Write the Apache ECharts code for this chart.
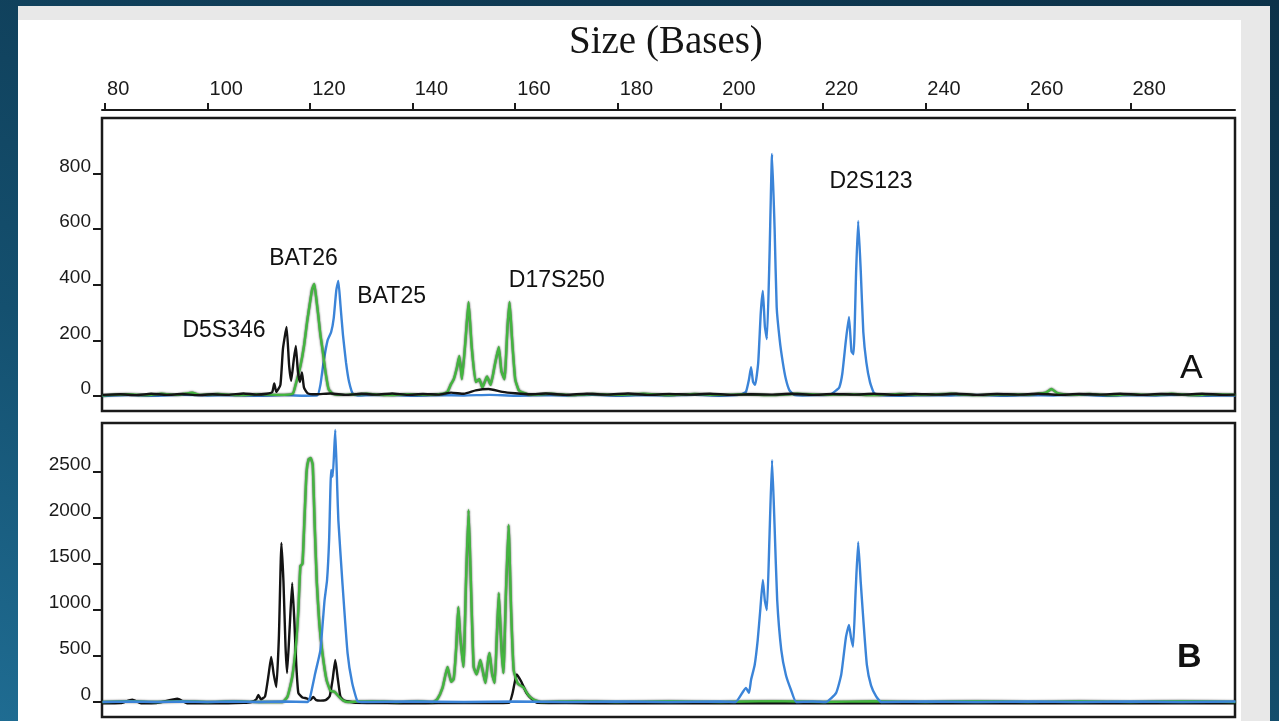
<!DOCTYPE html>
<html>
<head>
<meta charset="utf-8">
<script src="https://cdn.jsdelivr.net/npm/echarts@6/dist/echarts.min.js"></script>
<style>
html,body{margin:0;padding:0;width:1279px;height:721px;overflow:hidden;
background:linear-gradient(20deg,#1f6c92 0%,#14506f 35%,#0f3c56 70%,#0c3249 100%);}
#frame{position:absolute;left:18px;top:6px;width:1252px;height:715px;background:#e8e8e8;}
#paper{position:absolute;left:18px;top:20px;width:1223px;height:701px;background:#ffffff;}
#chart{position:absolute;left:0;top:0;width:1279px;height:721px;}
</style>
</head>
<body>
<div id="frame"></div>
<div id="paper"></div>
<div id="chart"></div>
<script>
// ---- axis ticks ----
const xTicks = [80,100,120,140,160,180,200,220,240,260,280];
const aTicks = [0,200,400,600,800];
const bTicks = [0,500,1000,1500,2000,2500];

// ---- panel A traces [size (bases), height] ----
const aBlack = [[79.5,4],[83,6],[86,3],[89,8],[92,4],[95,7],[98,3],[101,6],[104,4],[107,9],[109.5,5],[111.5,8],[112.6,14],[113.0,45],[113.4,15],[114.2,40],[114.7,170],[115.4,248],[115.9,110],[116.3,55],[116.8,130],[117.2,180],[117.6,90],[118.0,50],[118.4,85],[118.8,30],[119.5,10],[121,6],[124,9],[127,4],[130,8],[133,5],[136,9],[139,4],[142,7],[145,5],[147.5,12],[150,8],[152.3,20],[154.8,25],[157.5,15],[160,10],[163,6],[166,9],[170,4],[174,8],[178,5],[182,9],[186,4],[190,7],[194,5],[198,8],[202,4],[206,6],[210,5],[214,8],[218,4],[222,7],[226,5],[230,8],[234,4],[238,7],[242,5],[246,8],[250,4],[254,7],[258,5],[262,8],[266,4],[270,7],[274,5],[278,8],[282,4],[286,7],[290,5],[294,8],[298,4],[300.5,5]];
const aGreen = [[79.5,2],[84,6],[88,3],[91,8],[94,4],[97,12],[98.5,4],[102,7],[106,3],[110,6],[114,4],[116.6,8],[117.1,36],[118.1,108],[118.8,180],[119.4,266],[120.0,340],[120.4,385],[120.8,403],[121.2,350],[121.6,288],[122.0,220],[122.4,169],[123.0,86],[123.6,25],[124.4,8],[127,4],[131,8],[135,3],[139,6],[143,4],[146,8],[146.8,15],[147.4,40],[148.0,60],[148.6,100],[149.1,144],[149.6,60],[150.3,200],[150.9,338],[151.5,180],[152.3,50],[153.0,60],[153.6,30],[154.5,70],[155.2,40],[156.0,110],[156.8,176],[157.3,90],[157.9,60],[158.5,250],[158.9,338],[159.4,200],[160.0,60],[160.7,20],[161.5,12],[163,5],[167,8],[171,3],[175,7],[180,4],[185,8],[190,3],[195,7],[200,4],[205,6],[210,3],[215,8],[220,4],[225,6],[230,3],[235,7],[240,4],[245,8],[250,3],[255,6],[260,5],[263.5,12],[264.6,25],[265.8,10],[268,4],[272,7],[276,3],[280,6],[284,4],[288,8],[292,3],[296,6],[300.5,4]];
const aBlue = [[79.5,0],[85,3],[90,1],[95,4],[100,2],[105,3],[110,1],[115,3],[119,1],[121.4,2],[122.0,40],[122.6,120],[123.4,200],[124.1,230],[124.6,280],[125.1,380],[125.5,414],[125.9,330],[126.4,220],[127.0,120],[127.6,50],[128.4,6],[130,2],[135,4],[140,1],[145,3],[150,2],[155,4],[160,1],[165,3],[170,2],[175,4],[180,1],[185,3],[190,2],[195,4],[200,1],[204.0,5],[205.0,15],[205.6,60],[206.0,104],[206.4,50],[206.8,40],[207.4,120],[207.9,300],[208.3,378],[208.7,250],[209.1,205],[209.6,500],[210.1,871],[210.6,600],[211.0,320],[211.6,200],[212.2,120],[212.8,60],[213.5,20],[214.4,4],[216,2],[219,3],[221.5,5],[222.6,20],[223.2,30],[223.8,80],[224.5,200],[225.1,284],[225.6,160],[226.0,150],[226.5,450],[226.9,630],[227.4,450],[227.9,230],[228.5,120],[229.2,50],[230.0,10],[231,3],[235,1],[240,3],[245,2],[250,4],[255,1],[260,3],[265,2],[270,4],[275,1],[280,3],[285,2],[290,4],[295,1],[300.5,2]];

// ---- panel B traces ----
const bBlack = [[79.5,-15],[83,-12],[85.3,25],[87,-15],[90,-12],[94.1,35],[96,-14],[100,-12],[104,-15],[107,-10],[108.5,0],[109.5,30],[109.9,76],[110.4,30],[111.2,60],[111.9,300],[112.4,489],[112.9,300],[113.4,163],[113.9,700],[114.4,1728],[114.8,1300],[115.2,600],[115.5,315],[116.0,800],[116.5,1293],[116.9,900],[117.3,400],[117.7,98],[118.5,50],[119.3,40],[120.0,20],[120.6,55],[121.2,20],[122.0,15],[123.0,20],[123.8,60],[124.4,250],[124.9,456],[125.4,250],[125.9,60],[126.5,20],[127.5,5],[129,-10],[135,-12],[140,-15],[145,-12],[150,-10],[155,-12],[158.8,-10],[159.5,100],[160.3,300],[161.2,220],[162.2,100],[163.3,30],[164.5,-10],[170,-12],[180,-15],[190,-12],[200,-15],[210,-12],[220,-15],[230,-12],[240,-15],[250,-12],[260,-15],[270,-12],[280,-15],[290,-12],[300.5,-15]];
const bGreen = [[79.5,0],[85,8],[90,0],[95,10],[100,0],[105,8],[110,0],[114.6,0],[115.6,60],[116.5,272],[117.2,600],[117.7,1000],[118.1,1480],[118.5,1500],[118.9,2000],[119.3,2500],[119.7,2640],[120.1,2652],[120.5,2580],[120.9,1900],[121.3,1300],[121.8,850],[122.4,530],[123.2,240],[124.0,120],[124.8,110],[125.6,60],[126.5,15],[127.5,0],[132,10],[137,0],[141,8],[144.0,0],[144.8,30],[145.8,150],[146.8,380],[147.5,220],[148.0,250],[148.5,600],[148.9,1033],[149.3,700],[149.9,380],[150.4,1300],[150.9,2087],[151.3,1400],[151.9,380],[152.5,300],[153.2,456],[153.8,300],[154.2,206],[154.7,450],[155.0,532],[155.5,300],[156.0,206],[156.4,700],[156.8,1185],[157.3,600],[157.7,315],[158.2,1200],[158.7,1924],[159.2,1000],[159.7,348],[160.5,200],[161.6,160],[162.5,80],[163.5,30],[165.0,0],[172,10],[180,0],[190,8],[200,0],[210,10],[220,0],[230,8],[240,0],[250,10],[260,0],[270,8],[280,0],[290,10],[300.5,0]];
const bBlue = [[79.5,0],[85,5],[90,0],[95,5],[100,0],[105,5],[110,0],[115,5],[119.5,0],[120.0,54],[121.0,315],[122.0,565],[122.8,1100],[123.3,1326],[123.7,1761],[124.1,2522],[124.4,2450],[124.9,2957],[125.3,2300],[125.5,1978],[126.3,1293],[127.3,532],[128.2,206],[129.2,10],[130,0],[140,5],[150,0],[160,5],[170,0],[180,5],[190,0],[200,5],[203.0,0],[205.0,152],[205.6,100],[206.0,240],[206.7,400],[207.3,674],[207.8,1000],[208.3,1326],[208.7,1100],[209.1,1000],[209.6,1800],[210.1,2630],[210.6,1900],[211.1,1109],[211.9,565],[212.8,293],[213.8,130],[214.8,0],[218,5],[220.6,0],[222.6,100],[223.6,300],[224.5,700],[225.1,837],[225.5,700],[225.9,600],[226.4,1200],[226.9,1739],[227.4,1300],[227.9,900],[228.6,400],[229.4,180],[230.4,60],[231.4,0],[240,5],[250,0],[260,5],[270,0],[280,5],[290,0],[300.5,5]];

// ---- marker labels [size, height, text] ----
const aLabels = [[103.2,234,'D5S346'],[118.7,493,'BAT26'],[135.9,356,'BAT25'],[168.1,414,'D17S250'],[229.4,770,'D2S123']];
const aPanelTag = [[291.9,97,'A']];
const bPanelTag = [[291.5,478,'B']];

const GREEN = '#43b53f', BLUE = '#3b84d8', BLACK = '#141414';
const XMIN = 79.4, XMAX = 300.4;

function trace(data, color, xi, yi, z, shadow) {
  return {
    type: 'line', xAxisIndex: xi, yAxisIndex: yi, data: data, showSymbol: false,
    smooth: 0.15, z: z, silent: true,
    lineStyle: Object.assign({color: color, width: 2.4},
      shadow ? {shadowColor: 'rgba(0,0,0,0.75)', shadowBlur: 2} : {})
  };
}
function labels(list, xi, yi, size, weight) {
  return {
    type: 'scatter', xAxisIndex: xi, yAxisIndex: yi, symbolSize: 0, silent: true, z: 20,
    itemStyle: {opacity: 1},
    data: list.map(d => ({value: [d[0], d[1]], name: d[2]})),
    label: {show: true, position: 'inside', formatter: p => p.name, opacity: 1,
      fontFamily: 'Liberation Sans', fontSize: size, fontWeight: weight, color: '#111111',
      textBorderWidth: 0}
  };
}

const yAxisCommon = {
  type: 'value', axisLine: {show: false, onZero: false}, splitLine: {show: false},
  axisTick: {show: true, length: 9, lineStyle: {color: '#1a1a1a', width: 2}},
  axisLabel: {fontFamily: 'Liberation Sans', fontSize: 19, color: '#1a1a1a', margin: 11,
    verticalAlign: 'bottom', lineHeight: 14, formatter: v => String(v)}
};

const chart = echarts.init(document.getElementById('chart'), null, {renderer: 'canvas'});
chart.setOption({
  backgroundColor: 'transparent',
  animation: false,
  graphic: [{type: 'text', left: 569, top: 23, silent: true,
    style: {text: 'Size (Bases)', fontFamily: 'Liberation Serif', fontSize: 39, fill: '#151515'}}],
  grid: [
    {left: 102, top: 118, width: 1133, height: 293, show: true, borderColor: '#1a1a1a', borderWidth: 2.5, backgroundColor: 'transparent'},
    {left: 102, top: 423, width: 1133, height: 294, show: true, borderColor: '#1a1a1a', borderWidth: 2.5, backgroundColor: 'transparent'}
  ],
  xAxis: [
    {type: 'value', gridIndex: 0, position: 'top', offset: 8, min: XMIN, max: XMAX,
      splitLine: {show: false},
      axisLine: {show: true, onZero: false, lineStyle: {color: '#1a1a1a', width: 2}},
      axisTick: {show: true, length: 7, customValues: xTicks, lineStyle: {color: '#1a1a1a', width: 2}},
      axisLabel: {customValues: xTicks, align: 'left', padding: [0, 0, 0, 2], margin: 11,
        fontFamily: 'Liberation Sans', fontSize: 20, color: '#1a1a1a'}},
    {type: 'value', gridIndex: 1, min: XMIN, max: XMAX, show: false, axisLine: {onZero: false}}
  ],
  yAxis: [
    Object.assign({}, yAxisCommon, {gridIndex: 0, min: -54, max: 1000,
      axisTick: Object.assign({}, yAxisCommon.axisTick, {customValues: aTicks}),
      axisLabel: Object.assign({}, yAxisCommon.axisLabel, {customValues: aTicks})}),
    Object.assign({}, yAxisCommon, {gridIndex: 1, min: -163, max: 3033,
      axisTick: Object.assign({}, yAxisCommon.axisTick, {customValues: bTicks}),
      axisLabel: Object.assign({}, yAxisCommon.axisLabel, {customValues: bTicks})})
  ],
  series: [
    trace(aBlue, BLUE, 0, 0, 2, false),
    trace(aGreen, GREEN, 0, 0, 3, true),
    trace(aBlack, BLACK, 0, 0, 4, false),
    trace(bBlack, BLACK, 1, 1, 2, false),
    trace(bGreen, GREEN, 1, 1, 3, true),
    trace(bBlue, BLUE, 1, 1, 4, false),
    labels(aLabels, 0, 0, 23, 'normal'),
    labels(aPanelTag, 0, 0, 34, 'normal'),
    labels(bPanelTag, 1, 1, 34, 'bold')
  ]
});
</script>
</body>
</html>
